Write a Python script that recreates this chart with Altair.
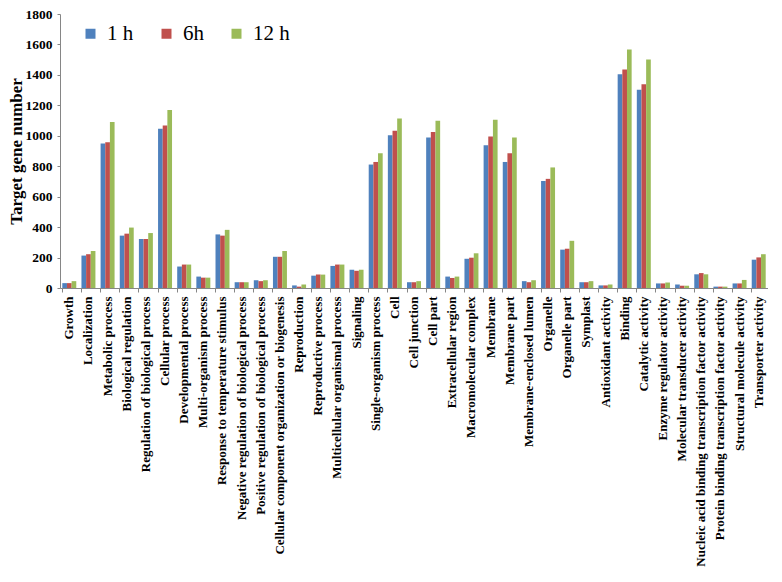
import altair as alt
import pandas as pd

categories = [
    "Growth", "Localization", "Metabolic process", "Biological  regulation",
    "Regulation of biological process", "Cellular process", "Developmental process",
    "Multi-organism process", "Response to temperature stimulus",
    "Negative  regulation of biological process", "Positive  regulation of biological  process",
    "Cellular component organization  or biogenesis", "Reproduction", "Reproductive process",
    "Multicellular  organismal process", "Signaling", "Single-organism process", "Cell",
    "Cell junction", "Cell part", "Extracellular region", "Macromolecular complex",
    "Membrane", "Membrane part", "Membrane-enclosed lumen", "Organelle", "Organelle  part",
    "Symplast", "Antioxidant activity", "Binding", "Catalytic activity",
    "Enzyme regulator activity", "Molecular transducer activity",
    "Nucleic acid binding transcription factor activity",
    "Protein  binding transcription factor activity", "Structural molecule  activity",
    "Transporter activity",
]
series = ["1 h", "6h", "12 h"]
v_1h = [32, 213, 950, 344, 322, 1046, 141, 75, 352, 38, 51, 205, 17, 81, 145, 120, 811,
        1004, 38, 989, 75, 192, 937, 828, 45, 703, 252, 38, 17, 1405, 1303, 30, 23, 90, 9, 30, 186]
v_6h = [32, 222, 958, 357, 322, 1068, 154, 68, 344, 38, 45, 205, 9, 88, 154, 113, 828,
        1033, 38, 1025, 66, 199, 995, 886, 38, 717, 258, 38, 17, 1435, 1339, 30, 15, 98, 9, 30, 201]
v_12h = [45, 243, 1091, 397, 361, 1170, 154, 68, 382, 38, 51, 243, 23, 88, 154, 120, 886,
         1113, 45, 1098, 75, 228, 1106, 989, 51, 792, 310, 45, 23, 1567, 1501, 36, 15, 90, 9, 53, 222]
colors = ["#4F81BD", "#C0504D", "#9BBB59"]

rows = []
for s, vals in zip(series, [v_1h, v_6h, v_12h]):
    for c, v in zip(categories, vals):
        rows.append({"category": c, "series": s, "value": v})
df = pd.DataFrame(rows)

font = "Liberation Serif"

chart = alt.Chart(df).mark_bar().encode(
    x=alt.X("category:N", sort=categories,
            scale=alt.Scale(paddingInner=0.27, paddingOuter=0.12),
            axis=alt.Axis(title=None, labelAngle=-90, labelFont=font, labelFontSize=13,
                          labelFontWeight="bold", labelColor="black", labelLimit=400,
                          labelPadding=4, domainColor="#868686", tickColor="#868686",
                          tickSize=4, bandPosition=0)),
    xOffset=alt.XOffset("series:N", sort=series),
    y=alt.Y("value:Q", scale=alt.Scale(domain=[0, 1800]),
            axis=alt.Axis(title="Target gene number", values=list(range(0, 1801, 200)),
                          format="d", grid=False, labelFont=font, labelFontSize=13.5,
                          labelFontWeight="bold", labelColor="black", labelPadding=5,
                          titleFont=font, titleFontSize=17, titleFontWeight="bold",
                          titleColor="black", titlePadding=0,
                          domainColor="#868686", tickColor="#868686", tickSize=3)),
    color=alt.Color("series:N", sort=series,
                    scale=alt.Scale(domain=series, range=colors),
                    legend=alt.Legend(title=None, orient="none", legendX=20, legendY=9,
                                      direction="horizontal", symbolType="square",
                                      symbolSize=100, symbolStrokeWidth=0,
                                      labelFont=font, labelFontSize=21, labelColor="black",
                                      columnPadding=22, labelOffset=6)),
).properties(
    width=708, height=274,
    autosize=alt.AutoSizeParams(type="none"),
    padding={"left": 52, "top": 6, "right": 0, "bottom": 280},
).configure_view(stroke=None)

chart.save("out.html", embed_options={"renderer": "svg", "actions": False})
